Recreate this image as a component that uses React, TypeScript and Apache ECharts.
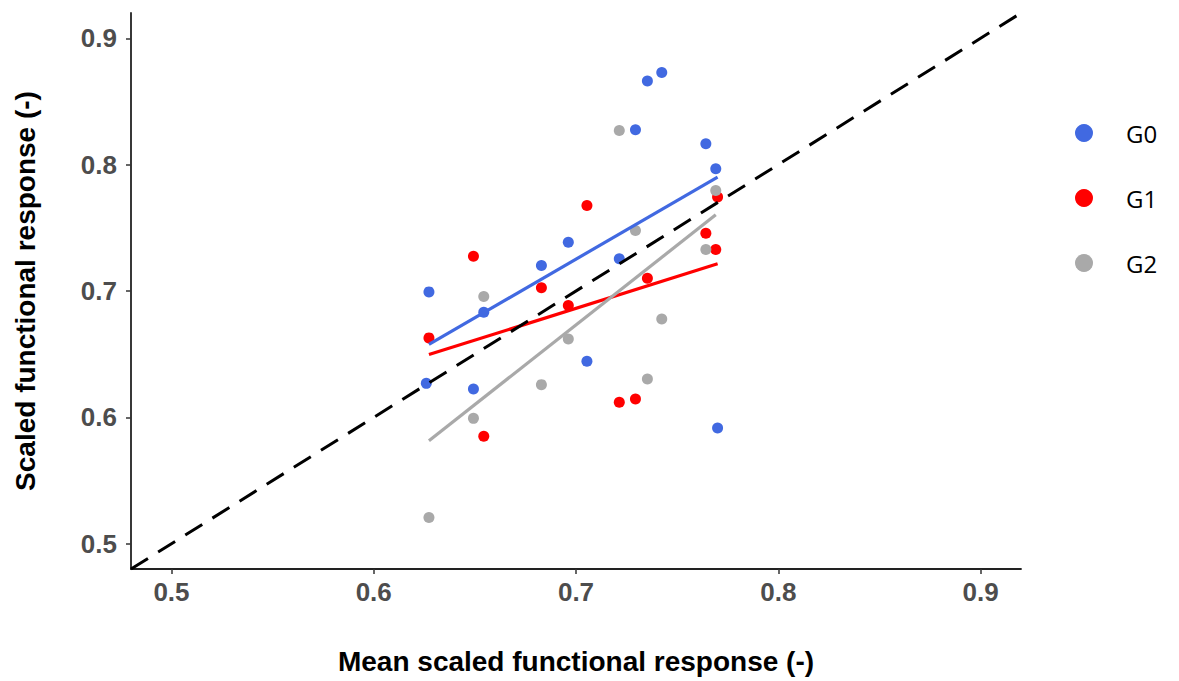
import React, { useEffect, useRef } from "react";
import * as echarts from "echarts";

// Scatter data: [mean scaled functional response, scaled functional response]
const g0Points: [number, number][] = [
  [0.6273, 0.6993], [0.626, 0.6269], [0.6493, 0.6225], [0.6544, 0.6832],
  [0.6829, 0.7202], [0.6962, 0.7386], [0.7054, 0.6444], [0.7214, 0.7255],
  [0.7294, 0.8276], [0.7353, 0.8661], [0.7424, 0.873], [0.7642, 0.8166],
  [0.7691, 0.7968], [0.77, 0.5916],
];
const g1Points: [number, number][] = [
  [0.6273, 0.6629], [0.6493, 0.7275], [0.6544, 0.585], [0.6829, 0.7025],
  [0.6962, 0.6885], [0.7054, 0.7677], [0.7214, 0.6119], [0.7294, 0.6146],
  [0.7353, 0.7101], [0.7642, 0.7457], [0.7691, 0.7328], [0.77, 0.7743],
];
const g2Points: [number, number][] = [
  [0.6273, 0.5208], [0.6493, 0.5992], [0.6544, 0.6956], [0.6829, 0.6259],
  [0.6962, 0.6621], [0.7214, 0.8271], [0.7294, 0.7479], [0.7353, 0.6304],
  [0.7424, 0.6779], [0.7642, 0.7328], [0.7691, 0.7796],
];

// Linear fit lines (endpoints)
const g0Fit: [number, number][] = [[0.6273, 0.6578], [0.77, 0.7901]];
const g1Fit: [number, number][] = [[0.6273, 0.6497], [0.77, 0.7215]];
const g2Fit: [number, number][] = [[0.6273, 0.5815], [0.7691, 0.7603]];

// 1:1 reference line
const identityLine: [number, number][] = [[0.48, 0.48], [0.92, 0.92]];

const groupNames = ["G0", "G1", "G2"];
const groupColors = ["#4169E1", "#FF0000", "#A9A9A9"];
const tickValues = [0.5, 0.6, 0.7, 0.8, 0.9];
const axisMin = 0.48;
const axisMax = 0.92;

const xTitle = "Mean scaled functional response (-)";
const yTitle = "Scaled functional response (-)";

export default function App() {
  const ref = useRef<HTMLDivElement>(null);

  useEffect(() => {
    if (!ref.current) return;
    const chart = echarts.init(ref.current, undefined, { renderer: "svg" });
    const fontFamily = "'Liberation Sans', Arial, sans-serif";
    const axisCommon = (name: string, isY: boolean) => ({
      type: "value" as const,
      min: axisMin,
      max: axisMax,
      name,
      nameLocation: "middle" as const,
      nameGap: isY ? 92 : 78,
      nameTextStyle: {
        color: "#000",
        fontSize: 28,
        fontWeight: "bold" as const,
        fontFamily,
      },
      axisLine: { show: true, lineStyle: { color: "#222", width: 1.8 } },
      axisTick: {
        show: true,
        length: 5,
        customValues: tickValues,
        lineStyle: { color: "#333", width: 1.5 },
      },
      axisLabel: {
        customValues: tickValues,
        margin: isY ? 14 : 10,
        color: "#4D4D4D",
        fontSize: 26,
        fontWeight: "bold" as const,
        fontFamily,
        formatter: (v: number) => v.toFixed(1),
      },
      splitLine: { show: false },
    });

    const pts = [g0Points, g1Points, g2Points];
    const fits = [g0Fit, g1Fit, g2Fit];

    const scatterSeries = groupNames.map((n, i) => ({
      name: n,
      type: "scatter" as const,
      data: pts[i],
      symbol: "circle",
      symbolSize: 11,
      itemStyle: { color: groupColors[i], opacity: 1 },
      z: 2,
    }));
    const fitSeries = groupNames.map((n, i) => ({
      name: n + " fit",
      type: "line" as const,
      data: fits[i],
      showSymbol: false,
      symbol: "none",
      lineStyle: { color: groupColors[i], width: 3.2 },
      z: 3,
    }));

    chart.setOption({
      animation: false,
      backgroundColor: "#fff",
      grid: { left: 131, right: 158, top: 13, bottom: 112, containLabel: false },
      xAxis: axisCommon(xTitle, false),
      yAxis: axisCommon(yTitle, true),
      legend: {
        data: groupNames,
        orient: "vertical",
        left: 1070,
        top: 116,
        itemGap: 41,
        itemWidth: 18,
        itemHeight: 18,
        icon: "circle",
        textStyle: {
          color: "#000",
          fontSize: 24,
          lineHeight: 24,
          fontFamily: "'Open Sans', 'Liberation Sans', sans-serif",
          padding: [0, 0, 0, 28],
        },
      },
      series: [
        ...scatterSeries,
        ...fitSeries,
        {
          name: "1:1",
          type: "line",
          data: identityLine,
          showSymbol: false,
          symbol: "none",
          lineStyle: { color: "#000", width: 3, type: [20, 12] },
          z: 4,
        },
      ],
    });
    return () => chart.dispose();
  }, []);

  return (
    <div
      ref={ref}
      style={{ position: "fixed", left: 0, top: 0, width: 1179, height: 681 }}
    />
  );
}
